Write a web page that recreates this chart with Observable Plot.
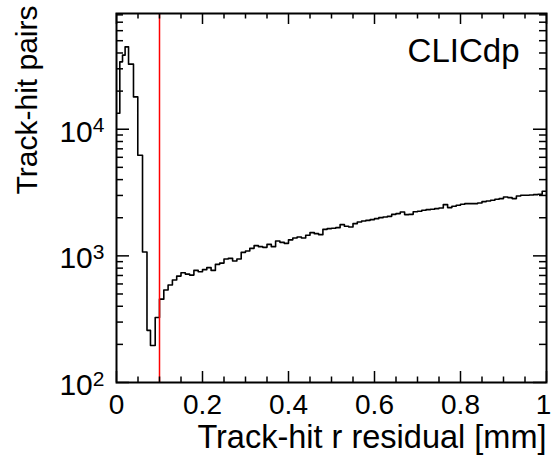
<!DOCTYPE html>
<html><head><meta charset="utf-8">
<script src="https://cdn.jsdelivr.net/npm/d3@7"></script>
<script src="https://cdn.jsdelivr.net/npm/@observablehq/plot@0.6"></script>
<style>html,body{margin:0;padding:0;background:#fff} svg{display:block}</style>
</head><body><div id="chart"></div>
<script>
// Low-residual region: bin left edges (mm) and counts
const lowEdges = [0, 0.0077, 0.014, 0.020, 0.028, 0.0395, 0.0495, 0.0605, 0.0709, 0.079, 0.090];
const lowCounts = [13380, 34040, 38460, 44730, 32640, 18000, 6230, 1072, 258, 196, 326];
// Tail region: bins of 0.01 mm starting at 0.10 mm
const tailStart = 0.10, tailWidth = 0.01;
const tailCounts = [
  455, 537, 588, 644, 692, 736, 718, 705, 768, 750,
  778, 807, 768, 857, 877, 944, 956, 910, 944, 1066,
  1091, 1146, 1204, 1182, 1167, 1233, 1182, 1309, 1279, 1256,
  1338, 1383, 1408, 1383, 1453, 1526, 1498, 1471, 1620, 1641,
  1650, 1671, 1765, 1711, 1690, 1797, 1851, 1884, 1908, 1933,
  1968, 2004, 2026, 2052, 2128, 2156, 2219, 2117, 2128, 2232,
  2248, 2289, 2318, 2331, 2361, 2387, 2540, 2404, 2462, 2507,
  2553, 2586, 2586, 2586, 2615, 2683, 2712, 2747, 2797, 2833,
  2917, 2885, 2833, 2970, 3008, 3008, 3024, 3047, 3064, 3235
];
const cutValue = [0.1];
const xMajor = [0, 0.2, 0.4, 0.6, 0.8];
const xLast = [1];
const xTickLabels = ["0", "0.2", "0.4", "0.6", "0.8"];
const xLastLabel = "1";
const xMinor = [0.05, 0.1, 0.15, 0.25, 0.3, 0.35, 0.45, 0.5, 0.55, 0.65, 0.7, 0.75, 0.85, 0.9, 0.95];
const yMajor = [100, 1000, 10000];
const yExponents = ["2", "3", "4"];
const yMinor = [200,300,400,500,600,700,800,900,2000,3000,4000,5000,6000,7000,8000,9000,20000,30000,40000,50000,60000,70000,80000];
const xTitle = "Track-hit r residual [mm]";
const yTitle = "Track-hit pairs";
const tag = "CLICdp";

const W = 551, H = 455;
const mL = 116, mR = 5, mT = 13, mB = 73;
const PW = W - mL - mR, PH = H - mT - mB;

const bins = [];
lowEdges.forEach((e, i) => bins.push({x: e, y: lowCounts[i]}));
tailCounts.forEach((c, i) => bins.push({x: tailStart + i * tailWidth, y: c}));
bins.push({x: 1, y: tailCounts[tailCounts.length - 1]});

const font = "'Liberation Sans', Arial, Helvetica, sans-serif";
const allXMajor = xMajor.concat(xLast);

const plot = Plot.plot({
  width: W, height: H,
  marginLeft: mL, marginRight: mR, marginTop: mT, marginBottom: mB,
  x: {domain: [0, 1]},
  y: {type: "log", domain: [100, 82000]},
  style: {fontFamily: font, color: "black", background: "white"},
  marks: [
    Plot.line(bins, {x: "x", y: "y", curve: "step-after", stroke: "black", strokeWidth: 1.6, clip: "frame"}),
    Plot.ruleX(cutValue, {stroke: "#ff0000", strokeWidth: 1.5}),
    // inward ticks
    Plot.tickY(yMajor, {y: d => d, insetRight: PW - 13, stroke: "black", strokeWidth: 1.5}),
    Plot.tickY(yMinor, {y: d => d, insetRight: PW - 7, stroke: "black", strokeWidth: 1.5}),
    Plot.tickY(yMajor, {y: d => d, insetLeft: PW - 13, stroke: "black", strokeWidth: 1.5}),
    Plot.tickY(yMinor, {y: d => d, insetLeft: PW - 7, stroke: "black", strokeWidth: 1.5}),
    Plot.tickX(allXMajor, {x: d => d, insetTop: PH - 11, stroke: "black", strokeWidth: 1.5}),
    Plot.tickX(xMinor, {x: d => d, insetTop: PH - 5.5, stroke: "black", strokeWidth: 1.5}),
    Plot.tickX(allXMajor, {x: d => d, insetBottom: PH - 11, stroke: "black", strokeWidth: 1.5}),
    Plot.tickX(xMinor, {x: d => d, insetBottom: PH - 5.5, stroke: "black", strokeWidth: 1.5}),
    Plot.frame({stroke: "black", strokeWidth: 2}),
    Plot.axisX(xMajor, {tickSize: 0, tickPadding: 12, fontSize: 28, label: null,
      tickFormat: d => xTickLabels[xMajor.indexOf(d)]}),
    Plot.axisX(xLast, {tickSize: 0, tickPadding: 12, fontSize: 28, label: null, dx: -3,
      tickFormat: () => xLastLabel}),
    Plot.axisY(yMajor, {tickSize: 0, tickPadding: 12, fontSize: 30, label: null, dy: 3,
      tickFormat: d => "10^" + yExponents[yMajor.indexOf(d)]}),
    Plot.text([xTitle], {text: d => d, frameAnchor: "bottom-right", textAnchor: "end", lineAnchor: "bottom",
      dy: 65, fontSize: 32.5}),
    Plot.text([yTitle], {text: d => d, frameAnchor: "top-left", textAnchor: "end", lineAnchor: "bottom",
      rotate: -90, dx: 36 - mL, dy: 5 - mT, fontSize: 30}),
    Plot.text([tag], {text: d => d, frameAnchor: "top-right", textAnchor: "end", lineAnchor: "bottom",
      dx: -27, dy: 61 - mT, fontSize: 33})
  ]
});

// superscript exponents on y tick labels
plot.querySelectorAll('g[aria-label="y-axis tick label"] text').forEach(t => {
  const parts = t.textContent.split("^");
  if (parts.length === 2) {
    t.textContent = "";
    const ns = "http://www.w3.org/2000/svg";
    const a = document.createElementNS(ns, "tspan");
    a.textContent = parts[0];
    const b = document.createElementNS(ns, "tspan");
    b.textContent = parts[1];
    b.setAttribute("dy", "-0.45em");
    b.setAttribute("font-size", "0.7em");
    t.appendChild(a); t.appendChild(b);
  }
});

document.getElementById("chart").appendChild(plot);
</script>
</body></html>
